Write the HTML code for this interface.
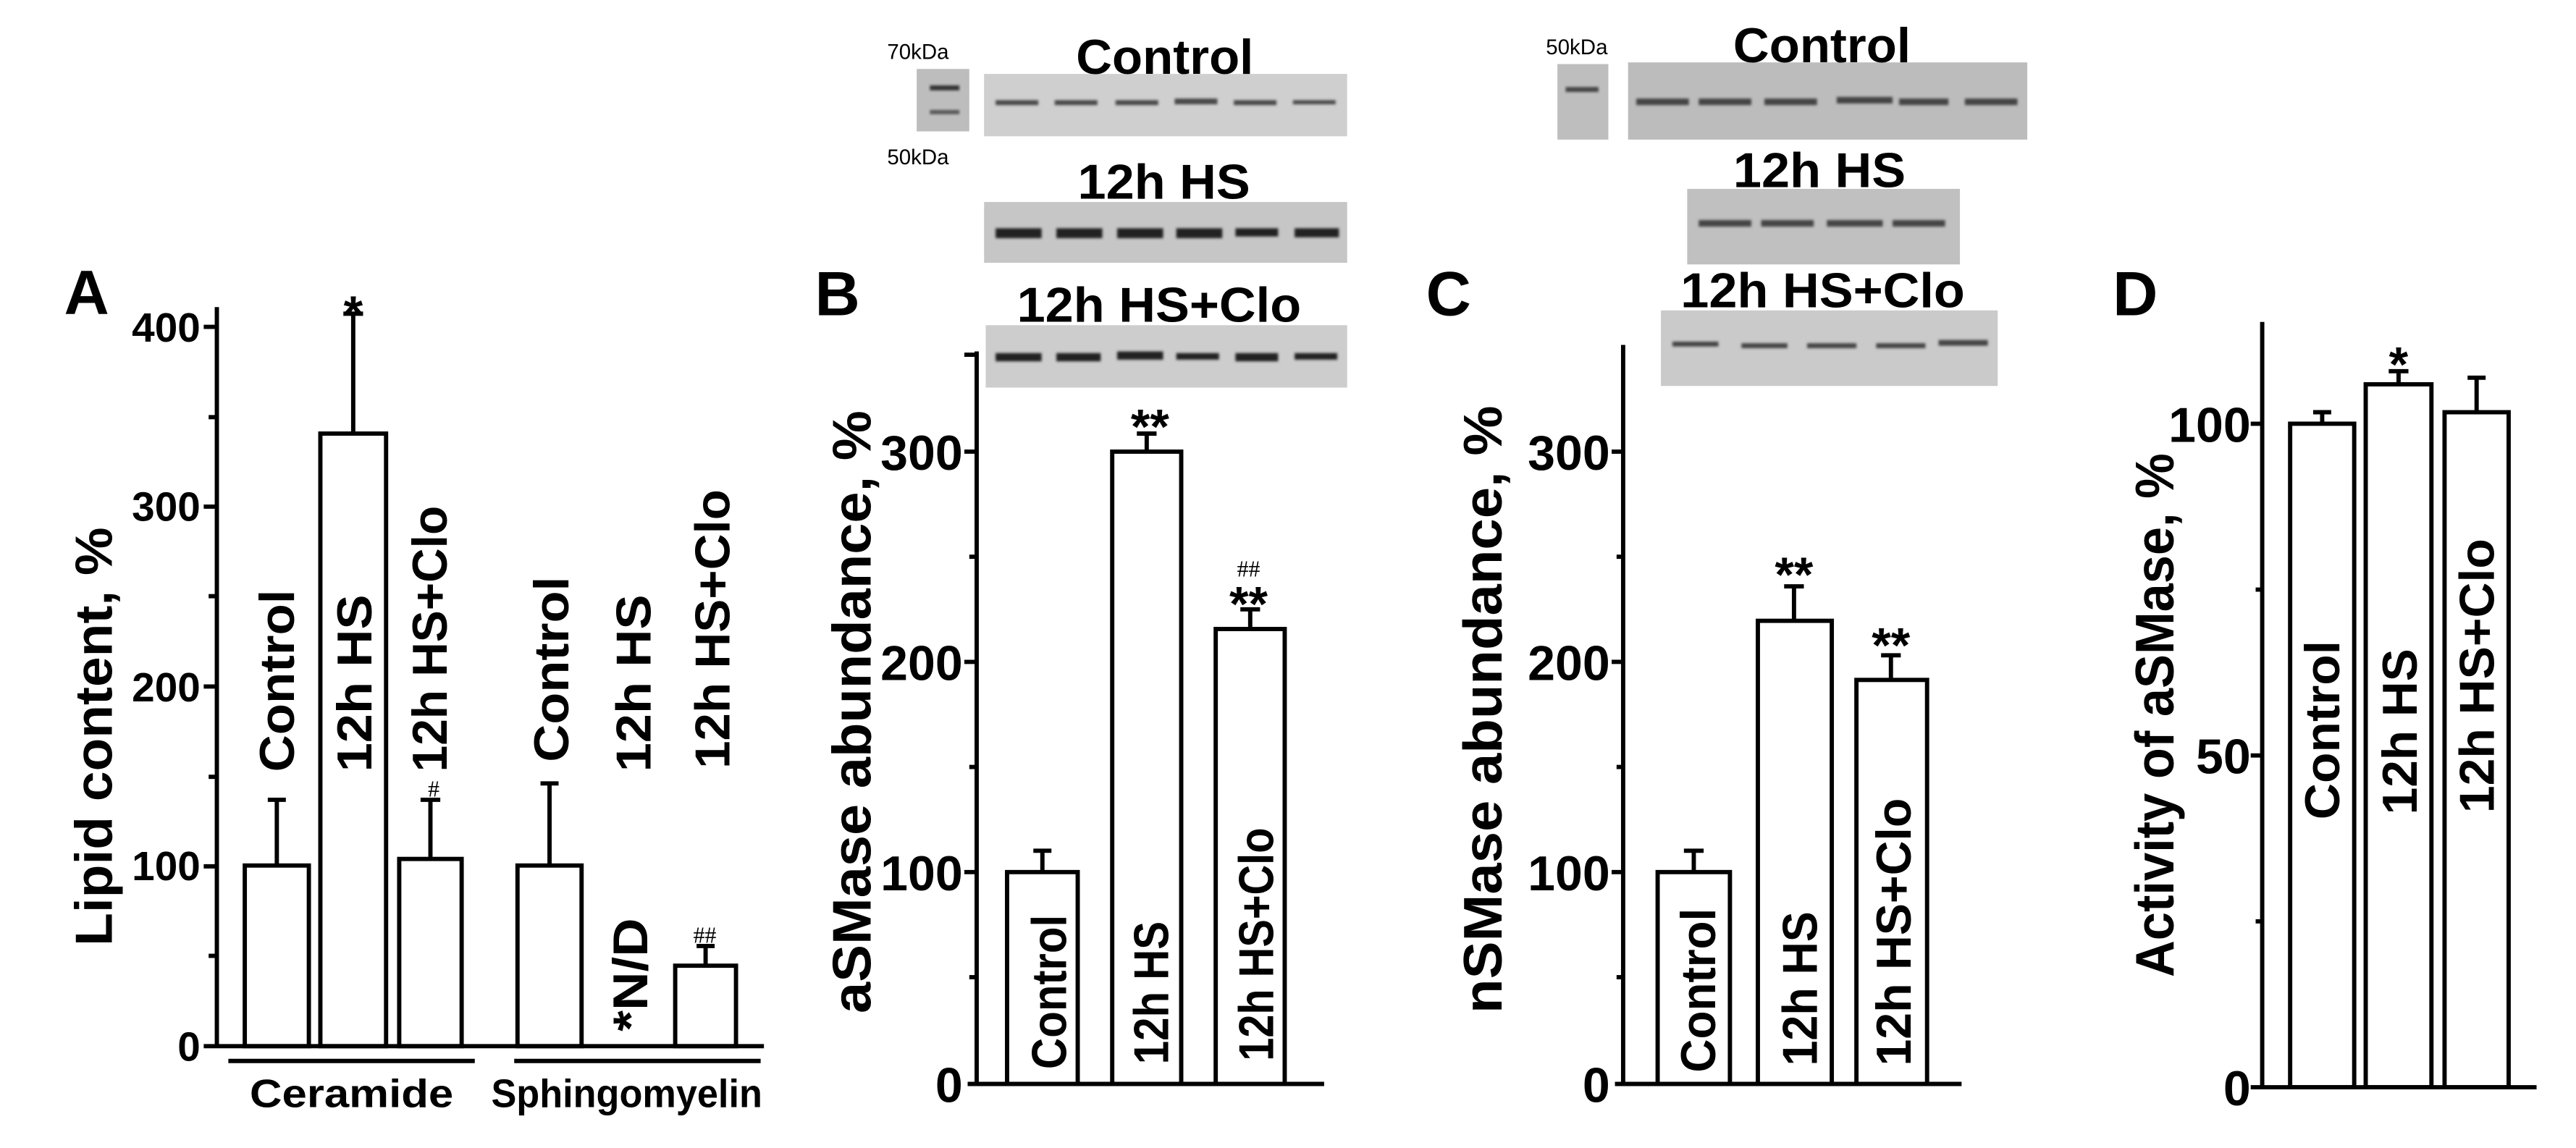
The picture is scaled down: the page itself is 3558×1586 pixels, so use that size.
<!DOCTYPE html>
<html><head><meta charset="utf-8"><style>html,body{margin:0;padding:0;background:#fff}svg{display:block}</style></head><body>
<svg xmlns="http://www.w3.org/2000/svg" width="3558" height="1586" viewBox="0 0 1568 699" preserveAspectRatio="none" font-family="Liberation Sans, Arial, sans-serif" font-weight="bold">
<defs>
<filter id="bl" x="-5%" y="-50%" width="110%" height="200%"><feGaussianBlur stdDeviation="0.8"/></filter>
</defs>
<rect width="1568" height="699" fill="#fff"/>
<g stroke="#000" stroke-width="2.6" fill="none">
<line x1="132" y1="187" x2="132" y2="638"/>
<line x1="124" y1="637" x2="465" y2="637"/>
<line x1="124" y1="199" x2="132" y2="199"/><line x1="124" y1="308.5" x2="132" y2="308.5"/><line x1="124" y1="418" x2="132" y2="418"/><line x1="124" y1="527.5" x2="132" y2="527.5"/>
<line x1="127" y1="254" x2="132" y2="254"/><line x1="127" y1="363" x2="132" y2="363"/><line x1="127" y1="473" x2="132" y2="473"/><line x1="127" y1="582" x2="132" y2="582"/>
<line x1="139" y1="646" x2="289" y2="646"/><line x1="313" y1="646" x2="463" y2="646"/>
<rect x="149" y="527" width="39" height="110"/><line x1="168.5" y1="527" x2="168.5" y2="487"/><line x1="163" y1="487" x2="174" y2="487"/>
<rect x="195" y="264" width="40" height="373"/><line x1="215" y1="264" x2="215" y2="191"/><line x1="209" y1="191" x2="221" y2="191"/>
<rect x="243" y="523" width="38" height="114"/><line x1="262" y1="523" x2="262" y2="487"/><line x1="256" y1="487" x2="268" y2="487"/>
<rect x="315" y="527" width="39" height="110"/><line x1="334.5" y1="527" x2="334.5" y2="477"/><line x1="329" y1="477" x2="340" y2="477"/>
<rect x="411" y="588" width="37" height="49"/><line x1="429.5" y1="588" x2="429.5" y2="576"/><line x1="424" y1="576" x2="435" y2="576"/>
<line x1="594.5" y1="214" x2="594.5" y2="661"/>
<line x1="589" y1="660" x2="806" y2="660"/>
<line x1="587" y1="275" x2="594" y2="275"/><line x1="587" y1="403" x2="594" y2="403"/><line x1="587" y1="531" x2="594" y2="531"/><line x1="587" y1="216" x2="594" y2="216"/>
<line x1="590" y1="339" x2="594" y2="339"/><line x1="590" y1="467" x2="594" y2="467"/><line x1="590" y1="595" x2="594" y2="595"/>
<rect x="613" y="531" width="43" height="129"/><line x1="634.5" y1="531" x2="634.5" y2="518"/><line x1="629" y1="518" x2="640" y2="518"/>
<rect x="677" y="275" width="42" height="385"/><line x1="698" y1="275" x2="698" y2="264"/><line x1="692" y1="264" x2="704" y2="264"/>
<rect x="740" y="383" width="42" height="277"/><line x1="761" y1="383" x2="761" y2="371"/><line x1="755" y1="371" x2="767" y2="371"/>
<line x1="988" y1="210" x2="988" y2="661"/>
<line x1="983" y1="660" x2="1194" y2="660"/>
<line x1="981" y1="275" x2="988" y2="275"/><line x1="981" y1="403" x2="988" y2="403"/><line x1="981" y1="531" x2="988" y2="531"/>
<line x1="984" y1="339" x2="988" y2="339"/><line x1="984" y1="467" x2="988" y2="467"/><line x1="984" y1="595" x2="988" y2="595"/>
<rect x="1009" y="531" width="44" height="129"/><line x1="1031" y1="531" x2="1031" y2="518"/><line x1="1025" y1="518" x2="1037" y2="518"/>
<rect x="1070" y="378" width="45" height="282"/><line x1="1092" y1="378" x2="1092" y2="357"/><line x1="1086" y1="357" x2="1098" y2="357"/>
<rect x="1130" y="414" width="43" height="246"/><line x1="1151" y1="414" x2="1151" y2="399"/><line x1="1145" y1="399" x2="1157" y2="399"/>
<line x1="1377" y1="196" x2="1377" y2="663"/>
<line x1="1370" y1="662" x2="1544" y2="662"/>
<line x1="1370" y1="258" x2="1377" y2="258"/><line x1="1370" y1="460" x2="1377" y2="460"/>
<line x1="1373" y1="359" x2="1377" y2="359"/><line x1="1373" y1="561" x2="1377" y2="561"/>
<rect x="1394" y="258" width="39" height="404"/><line x1="1413.5" y1="258" x2="1413.5" y2="251"/><line x1="1408" y1="251" x2="1419" y2="251"/>
<rect x="1440" y="234" width="40" height="428"/><line x1="1460" y1="234" x2="1460" y2="226"/><line x1="1454" y1="226" x2="1466" y2="226"/>
<rect x="1488" y="251" width="39" height="411"/><line x1="1507.5" y1="251" x2="1507.5" y2="230"/><line x1="1502" y1="230" x2="1513" y2="230"/>
</g>

<g>
<rect x="558" y="42" width="32" height="38" fill="#bdbdbd"/>
<rect x="566" y="52" width="18" height="3" fill="#333" filter="url(#bl)"/>
<rect x="566" y="67" width="18" height="2.5" fill="#555" filter="url(#bl)"/>
<rect x="599" y="45" width="221" height="38" fill="#cfcfcf"/>
<rect x="599" y="123" width="221" height="37" fill="#c6c6c6"/>
<rect x="600" y="198" width="220" height="38" fill="#cdcdcd"/>
<g fill="#4a4a4a" filter="url(#bl)">
<rect x="606" y="61" width="26" height="3"/><rect x="642" y="61" width="26" height="3"/><rect x="679" y="61" width="26" height="3"/><rect x="715" y="60" width="26" height="3.5"/><rect x="751" y="61" width="26" height="3"/><rect x="787" y="61" width="26" height="2.5"/>
</g>
<g fill="#222" filter="url(#bl)">
<rect x="606" y="139" width="28" height="6"/><rect x="643" y="139" width="28" height="6"/><rect x="680" y="139" width="28" height="6"/><rect x="716" y="139" width="28" height="6"/><rect x="752" y="139" width="26" height="5"/><rect x="788" y="139" width="27" height="5.5"/>
<rect x="606" y="215" width="28" height="5"/><rect x="643" y="215" width="27" height="5"/><rect x="680" y="214" width="28" height="5"/><rect x="716" y="215" width="26" height="4"/><rect x="752" y="215" width="26" height="5"/><rect x="788" y="215" width="26" height="4"/>
</g>
</g>
<g>
<rect x="948" y="39" width="31" height="46" fill="#bebebe"/>
<rect x="953" y="53" width="20" height="3" fill="#444" filter="url(#bl)"/>
<rect x="991" y="38" width="243" height="47" fill="#bcbcbc"/>
<rect x="1027" y="115" width="166" height="46" fill="#c0c0c0"/>
<rect x="1011" y="189" width="205" height="46" fill="#cacaca"/>
<g fill="#444" filter="url(#bl)">
<rect x="996" y="60" width="32" height="4"/><rect x="1034" y="60" width="32" height="4"/><rect x="1074" y="60" width="32" height="4"/><rect x="1118" y="59" width="34" height="4"/><rect x="1156" y="60" width="30" height="4"/><rect x="1196" y="60" width="32" height="4"/>
<rect x="1034" y="134" width="32" height="4"/><rect x="1072" y="134" width="32" height="4"/><rect x="1112" y="134" width="34" height="4"/><rect x="1152" y="134" width="32" height="4"/>
<rect x="1018" y="208" width="28" height="3"/><rect x="1060" y="209" width="28" height="3"/><rect x="1100" y="209" width="30" height="3"/><rect x="1142" y="209" width="30" height="3"/><rect x="1180" y="207" width="30" height="3.5"/>
</g>
</g>

<g fill="#000">
<text x="39" y="191" font-size="38">A</text>
<text x="496" y="192" font-size="38">B</text>
<text x="868" y="192" font-size="38">C</text>
<text x="1286" y="192" font-size="38">D</text>
<g font-size="25" text-anchor="end">
<text x="122" y="208">400</text><text x="122" y="317">300</text><text x="122" y="427">200</text><text x="122" y="536">100</text><text x="122" y="646">0</text>
</g>
<g font-size="30" text-anchor="end">
<text x="586" y="286">300</text><text x="586" y="414">200</text><text x="586" y="542">100</text><text x="586" y="671">0</text>
<text x="980" y="286">300</text><text x="980" y="414">200</text><text x="980" y="542">100</text><text x="980" y="671">0</text>
<text x="1370" y="269">100</text><text x="1370" y="471">50</text><text x="1370" y="673">0</text>
</g>
<text transform="translate(68,576) rotate(-90)" font-size="32" textLength="255" lengthAdjust="spacingAndGlyphs">Lipid content, %</text>
<text transform="translate(530,617) rotate(-90)" font-size="33" textLength="367" lengthAdjust="spacingAndGlyphs">aSMase abundance, %</text>
<text transform="translate(914,617) rotate(-90)" font-size="33" textLength="370" lengthAdjust="spacingAndGlyphs">nSMase abundance, %</text>
<text transform="translate(1323,595) rotate(-90)" font-size="33" textLength="319" lengthAdjust="spacingAndGlyphs">Activity of aSMase, %</text>
<g font-size="30">
<text transform="translate(179,470) rotate(-90)" textLength="111" lengthAdjust="spacingAndGlyphs">Control</text>
<text transform="translate(226,470) rotate(-90)" textLength="108" lengthAdjust="spacingAndGlyphs">12h HS</text>
<text transform="translate(272,470) rotate(-90)" textLength="162" lengthAdjust="spacingAndGlyphs">12h HS+Clo</text>
<text transform="translate(346,464) rotate(-90)" textLength="113" lengthAdjust="spacingAndGlyphs">Control</text>
<text transform="translate(396,470) rotate(-90)" textLength="108" lengthAdjust="spacingAndGlyphs">12h HS</text>
<text transform="translate(444,468) rotate(-90)" textLength="170" lengthAdjust="spacingAndGlyphs">12h HS+Clo</text>
<text transform="translate(394,628) rotate(-90)" textLength="69" lengthAdjust="spacingAndGlyphs">*N/D</text>
<text transform="translate(649,651) rotate(-90)" textLength="94" lengthAdjust="spacingAndGlyphs">Control</text>
<text transform="translate(711,648) rotate(-90)" textLength="87" lengthAdjust="spacingAndGlyphs">12h HS</text>
<text transform="translate(775,646) rotate(-90)" textLength="142" lengthAdjust="spacingAndGlyphs">12h HS+Clo</text>
<text transform="translate(1044,653) rotate(-90)" textLength="100" lengthAdjust="spacingAndGlyphs">Control</text>
<text transform="translate(1106,649) rotate(-90)" textLength="94" lengthAdjust="spacingAndGlyphs">12h HS</text>
<text transform="translate(1163,649) rotate(-90)" textLength="163" lengthAdjust="spacingAndGlyphs">12h HS+Clo</text>
<text transform="translate(1424,499) rotate(-90)" textLength="109" lengthAdjust="spacingAndGlyphs">Control</text>
<text transform="translate(1471,496) rotate(-90)" textLength="101" lengthAdjust="spacingAndGlyphs">12h HS</text>
<text transform="translate(1518,495) rotate(-90)" textLength="167" lengthAdjust="spacingAndGlyphs">12h HS+Clo</text>
</g>
<text x="152" y="674" font-size="24" textLength="124" lengthAdjust="spacingAndGlyphs">Ceramide</text>
<text x="299" y="674" font-size="24" textLength="165" lengthAdjust="spacingAndGlyphs">Sphingomyelin</text>
<g font-size="30" text-anchor="middle">
<text x="215" y="201">*</text>
<text x="700" y="270">**</text>
<text x="760" y="378">**</text>
<text x="1092" y="360">**</text>
<text x="1151" y="403">**</text>
<text x="1460" y="232">*</text>
</g>
<g font-size="14" font-weight="normal" font-family="Liberation Serif, serif" text-anchor="middle">
<text x="264" y="485">#</text>
<text x="429" y="574">##</text>
<text x="760" y="351">##</text>
</g>
<g font-size="30">
<text x="655" y="45" textLength="108" lengthAdjust="spacingAndGlyphs">Control</text>
<text x="656" y="121" textLength="105" lengthAdjust="spacingAndGlyphs">12h HS</text>
<text x="619" y="196" textLength="173" lengthAdjust="spacingAndGlyphs">12h HS+Clo</text>
<text x="1055" y="38" textLength="108" lengthAdjust="spacingAndGlyphs">Control</text>
<text x="1055" y="114" textLength="105" lengthAdjust="spacingAndGlyphs">12h HS</text>
<text x="1023" y="187" textLength="173" lengthAdjust="spacingAndGlyphs">12h HS+Clo</text>
</g>
<g font-size="13" font-weight="normal">
<text x="540" y="36">70kDa</text>
<text x="540" y="100">50kDa</text>
<text x="941" y="33">50kDa</text>
</g>
</g>
</svg>
</body></html>
